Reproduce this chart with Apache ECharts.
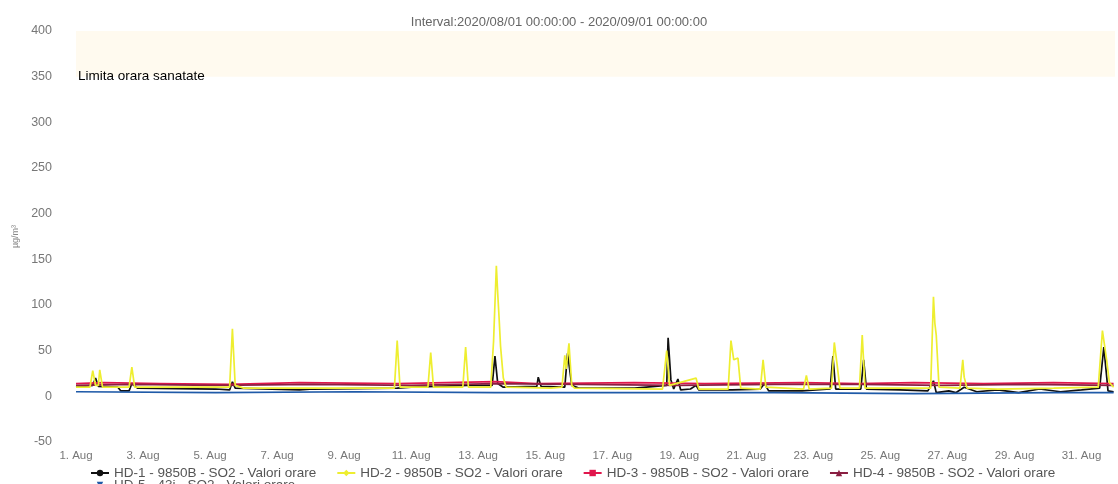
<!DOCTYPE html>
<html>
<head>
<meta charset="utf-8">
<script src="https://cdn.jsdelivr.net/npm/echarts@6/dist/echarts.min.js"></script>
<style>
html, body { margin: 0; padding: 0; background: #fff; overflow: hidden; }
#chart { width: 1118px; height: 484px; }
</style>
</head>
<body>
<div id="chart"></div>
<script>
// hour index from 2020/08/01 00:00, value in µg/m³
const hd1 = [[0,10],[12,12],[14,20],[16,11],[30,10],[32,6],[38,6],[40,14],[44,9],[100,8],[110,7],[112,16],[114,9],[160,7],[170,8],[230,9],[240,10],[280,12],[298,12],[300,44],[302,14],[306,10],[330,11],[331,21],[333,11],[350,10],[352,47],[355,12],[360,9],[400,9],[423,12],[424,64],[426,18],[428,8],[431,19],[433,7],[440,8],[444,12],[446,7],[470,7],[490,8],[493,14],[496,6],[520,6],[540,8],[542,44],[544,8],[562,8],[564,40],[566,8],[590,7],[610,6],[614,17],[616,4],[625,6],[630,4],[636,10],[645,5],[660,7],[675,4],[690,8],[705,5],[720,7],[733,9],[736,54],[739,6],[743,5]];
const hd2 = [[0,10],[10,10],[12,28],[14,12],[16,12],[17,29],[19,10],[38,10],[40,32],[42,10],[60,10],[110,10],[112,74],[114,12],[120,9],[228,9],[230,61],[232,10],[252,10],[254,48],[256,10],[277,10],[279,54],[281,10],[297,10],[299,60],[301,143],[302,112],[303,85],[304,55],[306,20],[308,10],[340,9],[348,10],[350,45],[351,30],[353,58],[355,12],[357,9],[420,8],[423,50],[425,12],[444,20],[446,8],[467,8],[469,61],[471,40],[474,42],[476,9],[490,8],[492,40],[494,10],[521,8],[523,23],[525,8],[541,9],[543,59],[545,35],[547,9],[561,9],[563,67],[565,9],[612,9],[614,109],[615,80],[616,67],[618,10],[633,9],[635,40],[636,21],[638,9],[660,8],[700,9],[732,10],[735,72],[738,40],[740,15],[743,10]];
const hd3 = [[0,14],[20,15],[60,14],[110,13],[160,15],[230,14],[300,16],[330,14],[400,15],[450,14],[520,15],[560,14],[600,15],[650,14],[700,15],[743,14]];
const hd4 = [[0,12],[40,13],[100,12],[170,13],[240,12],[300,14],[360,13],[430,12],[500,13],[560,13],[620,12],[680,13],[743,12]];
const hd5 = [[0,5],[100,4],[200,5],[300,4],[400,4],[500,4],[600,3],[700,4],[743,4]];

const seriesNames = [
    'HD-1 - 9850B - SO2 - Valori orare',
    'HD-2 - 9850B - SO2 - Valori orare',
    'HD-3 - 9850B - SO2 - Valori orare',
    'HD-4 - 9850B - SO2 - Valori orare',
    'HD-5 - 43i - SO2 - Valori orare'
];
const seriesData = [hd1, hd2, hd3, hd4, hd5];
const seriesColors = ['#111111', '#eeee30', '#e0164c', '#8a1f42', '#1f5aa8'];
const seriesSymbols = ['circle', 'diamond', 'rect', 'triangle', 'path://M0,0 L10,0 L5,10 Z'];
const limitBand = [350, 400];
const limitLabel = 'Limita orara sanatate';

const font = 'Liberation Sans, Arial, sans-serif';
const chart = echarts.init(document.getElementById('chart'));

let mySeries = [];
for (let i = 0; i < seriesNames.length; i++) {
    let s = {
        name: seriesNames[i],
        type: 'line',
        data: seriesData[i],
        symbol: seriesSymbols[i],
        symbolSize: 7,
        showSymbol: false,
        lineStyle: { width: 1.7, color: seriesColors[i] },
        itemStyle: { color: seriesColors[i] },
        animation: false,
        z: i === 1 ? 3 : 2
    };
    if (i === 0) {
        s.markArea = {
            silent: true,
            itemStyle: { color: '#fffaef' },
            label: {
                show: true,
                position: [2, '100%'],
                align: 'left',
                verticalAlign: 'middle',
                color: '#000',
                fontSize: 13.5,
                fontFamily: font
            },
            data: [[{ yAxis: limitBand[0], name: limitLabel }, { yAxis: limitBand[1] }]]
        };
    }
    mySeries.push(s);
}

const legendText = { fontSize: 13.5, color: '#555', fontFamily: font };

chart.setOption({
    animation: false,
    title: {
        text: 'Interval:2020/08/01 00:00:00 - 2020/09/01 00:00:00',
        left: 'center',
        top: 11,
        textStyle: { fontSize: 13, fontWeight: 'normal', color: '#666', fontFamily: font }
    },
    legend: [{
        data: seriesNames.slice(0, 4),
        left: 85,
        top: 461,
        itemGap: 20,
        itemWidth: 18,
        itemHeight: 8,
        textStyle: legendText
    }, {
        data: seriesNames.slice(4),
        left: 85,
        top: 473,
        itemWidth: 18,
        itemHeight: 8,
        textStyle: legendText
    }],
    grid: {
        top: 31,
        left: 76,
        right: -4,
        bottom: 42
    },
    xAxis: {
        type: 'value',
        min: 0,
        max: 744,
        interval: 48,
        axisLine: { show: false },
        axisTick: { show: false },
        splitLine: { show: false },
        axisLabel: {
            color: '#777',
            fontSize: 11.5,
            fontFamily: font,
            margin: 8,
            formatter: function (v) {
                return v >= 744 ? '' : (v / 24 + 1) + '. Aug';
            }
        }
    },
    yAxis: {
        type: 'value',
        min: -50,
        max: 400,
        interval: 50,
        name: 'µg/m³',
        nameLocation: 'middle',
        nameRotate: 90,
        nameGap: 55,
        nameTextStyle: { color: '#888', fontSize: 9, fontFamily: font },
        axisLine: { show: false },
        axisTick: { show: false },
        splitLine: { show: false },
        axisLabel: { color: '#777', fontSize: 12.5, fontFamily: font, margin: 24 }
    },
    series: mySeries
});
</script>
</body>
</html>
